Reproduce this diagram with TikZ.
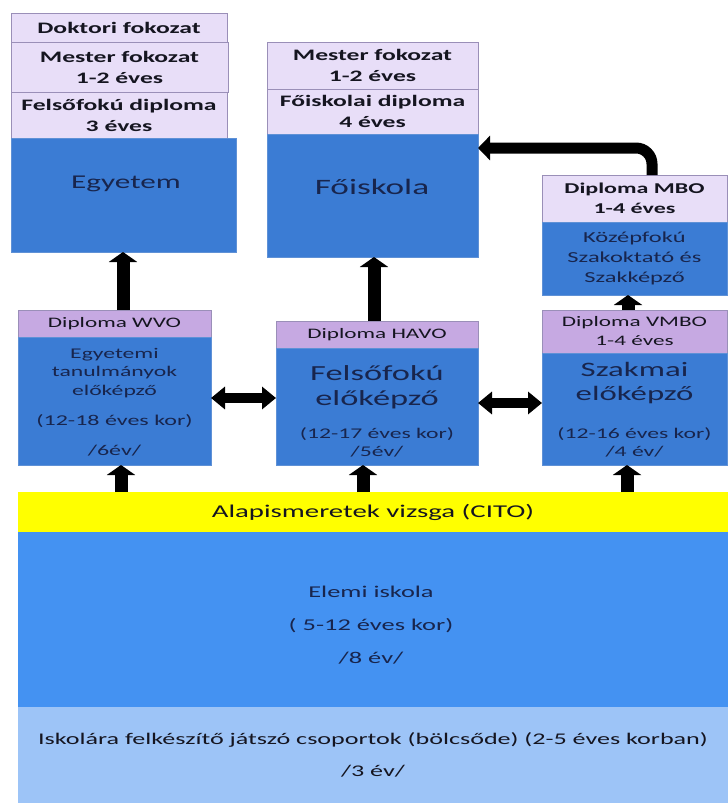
\documentclass[tikz,border=0pt]{standalone}
\usepackage{fontspec}
\setmainfont[FakeStretch=1.6]{Carlito}
\usetikzlibrary{arrows.meta}
\definecolor{lavA}{HTML}{E8DEF8}
\definecolor{lavB}{HTML}{C6A9E2}
\definecolor{lavline}{HTML}{9A8FB8}
\definecolor{blueA}{HTML}{3B7CD4}
\definecolor{blueline}{HTML}{5F91D6}
\definecolor{elemi}{HTML}{4492F2}
\definecolor{ovoda}{HTML}{9DC4F7}
\definecolor{navy}{HTML}{18254D}
\definecolor{ink}{HTML}{151520}
\definecolor{citoY}{HTML}{FFFF00}
\tikzset{
  bx/.style={rectangle, inner sep=0pt, outer sep=0pt, anchor=north west, align=center},
  hdrA/.style={bx, fill=lavA, draw=lavline, line width=0.6pt, text=ink, font=\fontsize{16}{21}\selectfont\bfseries},
  hdrB/.style={bx, fill=lavB, draw=lavline, line width=0.6pt, text=ink, font=\fontsize{14.5}{19}\selectfont},
  bluebox/.style={bx, fill=blueA, draw=blueline, line width=0.5pt},
  btxt/.style={align=center, text=navy, inner sep=0pt},
  uparr/.style={line width=13pt, -{Triangle[width=28pt,length=10pt]}},
  dblarr/.style={line width=10pt, {Triangle[width=22pt,length=14pt]}-{Triangle[width=22pt,length=14pt]}},
  bendarr/.style={line width=11pt, rounded corners=16pt, -{Triangle[width=24pt,length=12pt]}}
}
\begin{document}
\begin{tikzpicture}[x=1pt,y=-1pt]
\useasboundingbox (0,0) rectangle (728,803);
% left column
\node[hdrA, minimum width=216pt, minimum height=29pt] (dok) at (11,13) {Doktori fokozat};
\node[hdrA, minimum width=217pt, minimum height=50pt] (mes1) at (11,42) {Mester fokozat\\1-2 éves};
\node[hdrA, minimum width=216pt, minimum height=46pt] (fel) at (11,92) {Felsőfokú diploma\\3 éves};
\node[bluebox, minimum width=225pt, minimum height=114pt] (egy) at (11,138) {};
\node[btxt, font=\fontsize{19.5}{25}\selectfont] (egyt) at (126,184) {Egyetem};
% middle column
\node[hdrA, minimum width=211pt, minimum height=47pt] (mes2) at (267,42) {Mester fokozat\\1-2 éves};
\node[hdrA, minimum width=211pt, minimum height=45pt] (foi) at (267,89) {Főiskolai diploma\\4 éves};
\node[bluebox, minimum width=211pt, minimum height=123pt] (fois) at (267,134) {};
\node[btxt, font=\fontsize{22}{25}\selectfont] (foist) at (372,187) {Főiskola};
% right column
\node[hdrA, minimum width=185pt, minimum height=47pt, font=\fontsize{15}{20}\selectfont\bfseries] (mbo) at (542,175) {Diploma MBO\\1-4 éves};
\node[bluebox, minimum width=185pt, minimum height=73pt, text=navy, font=\fontsize{15.3}{20}\selectfont] (koz) at (542,222) {Középfokú\\Szakoktató és\\Szakképző};
% second row
\node[hdrB, minimum width=193pt, minimum height=27pt] (wvoh) at (18,310) {Diploma WVO};
\node[bluebox, minimum width=193pt, minimum height=128pt] (wvo) at (18,337) {};
\node[btxt, font=\fontsize{14.8}{18.5}\selectfont] (wvot1) at (114.5,373) {Egyetemi\\tanulmányok\\előképző};
\node[btxt, font=\fontsize{15}{18}\selectfont] (wvot2) at (114.5,421) {(12-18 éves kor)};
\node[btxt, font=\fontsize{15}{18}\selectfont] (wvot3) at (114.5,451) {/6év/};
\node[hdrB, minimum width=202pt, minimum height=27pt] (havoh) at (276,321) {Diploma HAVO};
\node[bluebox, minimum width=202pt, minimum height=117pt] (havo) at (276,348) {};
\node[btxt, font=\fontsize{21.5}{25}\selectfont] (havot1) at (377,387.5) {Felsőfokú\\előképző};
\node[btxt, font=\fontsize{14.8}{18}\selectfont] (havot2) at (377,442) {(12-17 éves kor)\\/5év/};
\node[hdrB, minimum width=185pt, minimum height=43pt] (vmboh) at (542,310) {Diploma VMBO\\1-4 éves};
\node[bluebox, minimum width=185pt, minimum height=112pt] (vmbo) at (542,353) {};
\node[btxt, font=\fontsize{20.5}{24}\selectfont] (vmbot1) at (634.5,383) {Szakmai\\előképző};
\node[btxt, font=\fontsize{14.8}{18}\selectfont] (vmbot2) at (634.5,442) {(12-16 éves kor)\\/4 év/};
% bottom
\node[bx, fill=citoY, minimum width=710pt, minimum height=40pt, text=ink, font=\fontsize{18}{22}\selectfont] (cito) at (18,492) {Alapismeretek vizsga (CITO)};
\node[bx, fill=elemi, minimum width=710pt, minimum height=175pt] (elemi) at (18,532) {};
\node[btxt, font=\fontsize{16.5}{33}\selectfont] (elemit) at (371,625) {Elemi iskola\\( 5-12 éves kor)\\/8 év/};
\node[bx, fill=ovoda, minimum width=710pt, minimum height=96pt, text=ink, font=\fontsize{16.3}{32}\selectfont] (ovoda) at (18,707) {Iskolára felkészítő játszó csoportok (bölcsőde) (2-5 éves korban)\\/3 év/};
% arrows
\draw[uparr] ([xshift=8.5pt]wvoh.north) -- ([xshift=-0.5pt]egy.south);
\draw[uparr] ([xshift=-3pt]havoh.north) -- ([xshift=1.5pt]fois.south);
\draw[uparr] ([xshift=-6.5pt]vmboh.north) -- ([xshift=-6.5pt]koz.south);
\draw[uparr] ([xshift=-252pt]cito.north) -- ([xshift=6.5pt]wvo.south);
\draw[uparr] ([xshift=-10pt]cito.north) -- ([xshift=-14pt]havo.south);
\draw[uparr] ([xshift=254pt]cito.north) -- ([xshift=-7.5pt]vmbo.south);
\draw[dblarr] ([yshift=3pt]wvo.east) -- ([yshift=8.5pt]havo.west);
\draw[dblarr] ([yshift=3.5pt]havo.east) -- ([yshift=6pt]vmbo.west);
\draw[bendarr] ([xshift=17.5pt]mbo.north) |- ([yshift=47.5pt]fois.east);
\end{tikzpicture}
\end{document}
